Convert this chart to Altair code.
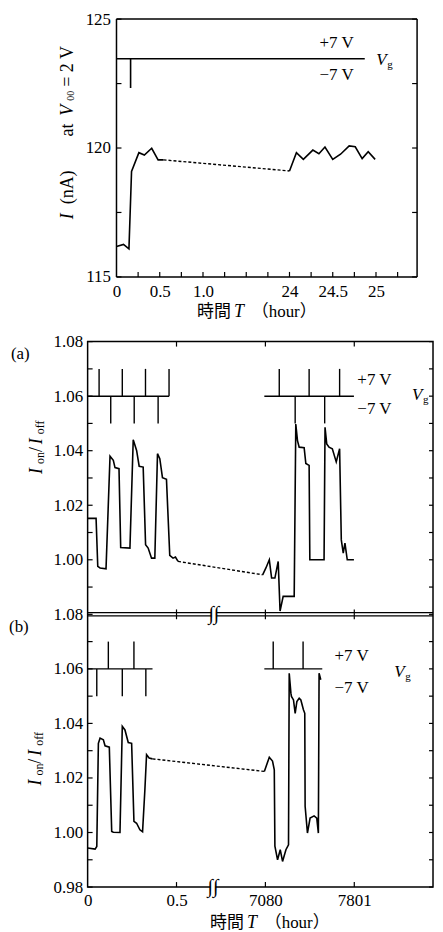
import altair as alt
import pandas as pd

NUM = "Liberation Serif"
MIX = "'Liberation Serif', 'Noto Sans CJK JP', serif"

# ---------------- top panel: I (nA) vs time T (hour) ----------------
top_solid1_t = [0.0, 0.081, 0.144, 0.174, 0.259, 0.322, 0.407, 0.481, 0.544]
top_solid1_I = [116.18, 116.26, 116.09, 119.09, 119.82, 119.73, 119.99, 119.54, 119.54]
top_dash_t = [0.544, 24.0]
top_dash_I = [119.54, 119.11]
top_solid2_t = [24.0, 24.08, 24.16, 24.27, 24.34, 24.41, 24.5, 24.59, 24.69, 24.76, 24.84, 24.91, 24.99]
top_solid2_I = [119.11, 119.82, 119.56, 119.92, 119.78, 120.04, 119.56, 119.76, 120.08, 120.05, 119.59, 119.86, 119.56]
top_vg_t = [0.0, 0.163, 0.163, 0.163, 24.87]
top_vg_I = [123.46, 123.46, 122.33, 123.46, 123.46]
top_tick_hours = [0, 0.5, 1.0, 24, 24.5, 25]
top_tick_labels = ["0", "0.5", "1.0", "24", "24.5", "25"]
top_y_labels = [115, 120, 125]
top_y_ticks = [115, 117.5, 120, 122.5, 125]
top_minor_pos = list(range(1, 14))

# ---------------- (a)/(b) panels: Ion/Ioff vs position on broken time axis ----------------
ab_tick_pos = [0, 1, 2, 3]
ab_tick_labels = ["0", "0.5", "7080", "7801"]

a_seg1_x = [0.0, 0.095, 0.114, 0.14, 0.207, 0.252, 0.289, 0.308, 0.353, 0.372, 0.476, 0.513, 0.551, 0.58,
            0.625, 0.652, 0.681, 0.719, 0.756, 0.786, 0.812, 0.842, 0.887, 0.924, 0.961, 0.988, 1.017]
a_seg1_y = [1.0152, 1.0152, 0.9976, 0.997, 0.9967, 1.038, 1.0365, 1.0338, 1.0334, 1.0045, 1.0043, 1.044, 1.0401,
            1.0343, 1.034, 1.0055, 1.0043, 1.0006, 1.0006, 1.0389, 1.0371, 1.0301, 1.0295, 1.0016, 1.0006, 1.001, 0.9994]
a_dash_x = [1.017, 1.969]
a_dash_y = [0.9994, 0.9945]
a_seg2_x = [1.969, 2.006, 2.044, 2.07, 2.107, 2.144, 2.165, 2.2, 2.324, 2.342, 2.361, 2.38, 2.436, 2.455, 2.492,
            2.5, 2.66, 2.671, 2.69, 2.716, 2.753, 2.797, 2.835, 2.854, 2.876, 2.895, 2.921, 2.996]
a_seg2_y = [0.9945, 0.997, 1.0, 0.9933, 0.9933, 0.9994, 0.9812, 0.9866, 0.9866, 1.0498, 1.0437, 1.0413, 1.0411,
            1.0353, 1.0346, 1.0, 1.0, 1.0486, 1.0425, 1.0413, 1.0407, 1.0359, 1.0407, 1.0073, 1.0024, 1.0061, 1.0, 1.0]

b_seg1_x = [0.0, 0.084, 0.103, 0.121, 0.14, 0.177, 0.196, 0.244, 0.271, 0.289, 0.364, 0.39, 0.42, 0.457, 0.495,
            0.521, 0.551, 0.588, 0.618, 0.644, 0.663, 0.692, 0.73]
b_seg1_y = [0.9943, 0.9939, 0.9949, 1.0327, 1.0346, 1.034, 1.0318, 1.0313, 1.0004, 1.0001, 1.0, 1.0389, 1.0376,
            1.033, 1.0327, 1.0041, 1.0034, 1.001, 1.0003, 1.0156, 1.0285, 1.0273, 1.027]
b_dash_x = [0.73, 1.988]
b_dash_y = [1.027, 1.0224]
b_seg2_x = [1.988, 2.044, 2.08, 2.1, 2.107, 2.137, 2.167, 2.193, 2.231, 2.26, 2.268, 2.287, 2.293, 2.316, 2.335,
            2.354, 2.38, 2.399, 2.428, 2.443, 2.447, 2.473, 2.503, 2.548, 2.578, 2.596, 2.604, 2.623]
b_seg2_y = [1.0224, 1.0276, 1.0262, 1.023, 0.995, 0.99, 0.9937, 0.9894, 0.9937, 0.9955, 1.0584, 1.0511, 1.0499,
            1.0486, 1.0437, 1.048, 1.0492, 1.0486, 1.045, 1.0437, 1.0096, 0.9998, 1.0053, 1.0061, 1.0053, 0.9998,
            1.0584, 1.056]

# gate voltage (Vg) switching schedule
vg_base, vg_high, vg_low = 1.06, 1.07, 1.05
a_vg_start = [0.0, 1.988]
a_vg_end = [0.916, 2.996]
a_vg_up = [0.129, 0.39, 0.651, 0.916, 2.156, 2.492, 2.835]
a_vg_down = [0.26, 0.524, 0.793, 2.335, 2.667]
b_vg_start = [0.0, 1.988]
b_vg_end = [0.73, 2.64]
b_vg_up = [0.233, 0.521, 2.088, 2.424]
b_vg_down = [0.103, 0.39, 0.655]

ab_y_minor = [round(0.98 + 0.01 * k, 2) for k in range(11)]
break_pos = [1.41, 1.42]

# ---------------- helpers ----------------
SHIFT = 29                 # top plot starts this far right of the lower plots
W1, H1 = 302, 259
W2, H2 = 347, 548


def top_pos(t):
    return 4 * t if t <= 1.0 else 8 + 4 * (t - 24)


def u_of(v, panel):
    # stack panel (b) [0.98, 1.08] below panel (a) [0.98, 1.08] on one axis
    return v - 0.98 + (0.1 if panel == "a" else 0.0)


def seg_df(xs, ys, seg):
    return pd.DataFrame({"x": list(xs), "y": list(ys), "seg": seg, "i": list(range(len(xs)))})


def label_expr(pos, labels):
    e = "''"
    for p, l in reversed(list(zip(pos, labels))):
        e = f"abs(datum.value - {p}) < 0.001 ? '{l}' : ({e})"
    return e


one = pd.DataFrame({"k": [0]})


def txt(s, x, y, size=17, style="normal", angle=0, align="left", baseline="middle", font=NUM):
    return alt.Chart(one).mark_text(
        text=s, fontSize=size, fontStyle=style, angle=angle, align=align,
        baseline=baseline, font=font, color="black"
    ).encode(x=alt.value(x), y=alt.value(y))


def xtitle(x0, y0):
    return [
        txt("時間", x0, y0, font=MIX, baseline="alphabetic"),
        txt("T", x0 + 37, y0, size=18, style="italic", baseline="alphabetic"),
        txt("（hour）", x0 + 55, y0, font=MIX, baseline="alphabetic"),
    ]


common_axis = dict(ticks=False, tickSize=0, domain=False, grid=False, labelFont=NUM, labelFontSize=17,
                   labelColor="black", labelFlush=False, labelOverlap=False)

# ---------------- top chart ----------------
X1_MAX = 13.9
xs1 = alt.Scale(domain=[0, X1_MAX], range=[SHIFT, SHIFT + W1], nice=False, zero=False)
ys1 = alt.Scale(domain=[115, 125], nice=False, zero=False)
top_pos_ticks = [top_pos(t) for t in top_tick_hours]
ax_x1 = alt.Axis(values=top_pos_ticks, labelExpr=label_expr(top_pos_ticks, top_tick_labels), labelPadding=7,
                 title=None, **common_axis)
ax_y1 = alt.Axis(values=top_y_labels, format="d", labelPadding=6, title=None, offset=-SHIFT, **common_axis)


def X1(f):
    return alt.X(f, type="quantitative", scale=xs1, axis=ax_x1)


def Y1(f):
    return alt.Y(f, type="quantitative", scale=ys1, axis=ax_y1)


top_solid = pd.concat([
    seg_df([top_pos(t) for t in top_solid1_t], top_solid1_I, "s1"),
    seg_df([top_pos(t) for t in top_solid2_t], top_solid2_I, "s2"),
    seg_df([top_pos(t) for t in top_vg_t], top_vg_I, "vg"),
])
top_dash = seg_df([top_pos(t) for t in top_dash_t], top_dash_I, "d")
top_frame = pd.DataFrame({"x": [0, X1_MAX, 0, 0], "x2": [0, X1_MAX, X1_MAX, X1_MAX],
                          "y": [115, 115, 115, 125], "y2": [125, 125, 115, 125]})

top_layers = [
    alt.Chart(top_frame).mark_rule(color="black", strokeWidth=1.5).encode(
        x=X1("x"), x2=alt.X2("x2"), y=Y1("y"), y2=alt.Y2("y2")),
    alt.Chart(top_solid).mark_line(color="black", strokeWidth=1.6).encode(
        x=X1("x"), y=Y1("y"), detail="seg:N", order="i:Q"),
    alt.Chart(top_dash).mark_line(color="black", strokeWidth=1.4, strokeDash=[3, 2]).encode(
        x=X1("x"), y=Y1("y"), order="i:Q"),
    alt.Chart(pd.DataFrame({"v": top_y_ticks})).mark_rule(color="black", strokeWidth=1.2).encode(
        x=alt.value(SHIFT), x2=alt.value(SHIFT + 5), y=Y1("v")),
    alt.Chart(pd.DataFrame({"v": top_y_ticks})).mark_rule(color="black", strokeWidth=1.2).encode(
        x=alt.value(SHIFT + W1 - 5), x2=alt.value(SHIFT + W1), y=Y1("v")),
    alt.Chart(pd.DataFrame({"v": top_minor_pos})).mark_rule(color="black", strokeWidth=1.2).encode(
        x=X1("v"), y=alt.value(H1 - 5), y2=alt.value(H1)),
    txt("+7 V", SHIFT + 204, 24.5),
    txt("−7 V", SHIFT + 204, 56.5),
    txt("V", SHIFT + 261, 41, style="italic"),
    txt("g", SHIFT + 272, 46, size=11),
    # y-axis title pieces
    txt("I", SHIFT - 44, 201, size=18, style="italic", angle=270, baseline="alphabetic"),
    txt("(nA)", SHIFT - 44, 186, size=18, angle=270, baseline="alphabetic"),
    txt("at", SHIFT - 44, 118, size=18, angle=270, baseline="alphabetic"),
    txt("V", SHIFT - 44, 97, size=18, style="italic", angle=270, baseline="alphabetic"),
    txt("00", SHIFT - 43, 82, size=10, angle=270, baseline="alphabetic"),
    txt("= 2 V", SHIFT - 44, 68, size=18, angle=270, baseline="alphabetic"),
    *xtitle(110, 299),
    # layout anchor (invisible)
    alt.Chart(one).mark_rule(strokeOpacity=0).encode(x=alt.value(SHIFT), y=alt.value(-6), y2=alt.value(309)),
]
top = alt.layer(*top_layers).properties(width=SHIFT + W1, height=H1,
                                         view=alt.ViewBackground(strokeOpacity=0))

# ---------------- (a)/(b) chart ----------------
xs2 = alt.Scale(domain=[0, W2 / 89.3], nice=False, zero=False)
ys2 = alt.Scale(domain=[0, 0.2], nice=False, zero=False)
ax_x2 = alt.Axis(values=ab_tick_pos, labelExpr=label_expr(ab_tick_pos, ab_tick_labels), labelPadding=6,
                 title=None, **common_axis)
ab_y_label_u = [round(0.02 * k, 2) for k in range(11)]
ax_y2 = alt.Axis(values=ab_y_label_u,
                 labelExpr="format(datum.value <= 0.1001 ? datum.value + 0.98 : datum.value + 0.88, '.2f')",
                 labelPadding=5, title=None, **common_axis)


def X2(f):
    return alt.X(f, type="quantitative", scale=xs2, axis=ax_x2)


def Y2(f):
    return alt.Y(f, type="quantitative", scale=ys2, axis=ax_y2)


def useg(xs, ys, panel, seg):
    return seg_df(xs, [u_of(v, panel) for v in ys], seg)


ab_solid = pd.concat([
    useg(a_seg1_x, a_seg1_y, "a", "a1"), useg(a_seg2_x, a_seg2_y, "a", "a2"),
    useg(b_seg1_x, b_seg1_y, "b", "b1"), useg(b_seg2_x, b_seg2_y, "b", "b2"),
])
ab_dash = pd.concat([useg(a_dash_x, a_dash_y, "a", "ad"), useg(b_dash_x, b_dash_y, "b", "bd")])

vg_h = pd.DataFrame({
    "x": a_vg_start + b_vg_start, "x2": a_vg_end + b_vg_end,
    "u": [u_of(vg_base, "a")] * len(a_vg_start) + [u_of(vg_base, "b")] * len(b_vg_start),
})
vg_v = pd.DataFrame({
    "x": a_vg_up + a_vg_down + b_vg_up + b_vg_down,
    "u1": [u_of(vg_base, "a")] * (len(a_vg_up) + len(a_vg_down)) + [u_of(vg_base, "b")] * (len(b_vg_up) + len(b_vg_down)),
    "u2": [u_of(vg_high, "a")] * len(a_vg_up) + [u_of(vg_low, "a")] * len(a_vg_down)
          + [u_of(vg_high, "b")] * len(b_vg_up) + [u_of(vg_low, "b")] * len(b_vg_down),
})
side_ticks = pd.DataFrame({"u": [u_of(v, "b") for v in ab_y_minor] + [u_of(v, "a") for v in ab_y_minor[1:]]})
edge_ticks = pd.DataFrame({"x": ab_tick_pos[1:]})
junction = u_of(0.98, "a")
junction_ticks = pd.DataFrame({"x": ab_tick_pos[1:], "u1": junction - 0.0018, "u2": junction + 0.0018})
junction_lines = pd.DataFrame({"u": [junction - 0.0006, junction + 0.0006]})
breaks = pd.DataFrame({"x": break_pos, "u": [0.0, junction]})
breaks["xa"] = breaks["x"] - 0.03
breaks["xb"] = breaks["x"] + 0.03

ab_layers = [
    alt.Chart(ab_solid).mark_line(color="black", strokeWidth=1.6).encode(
        x=X2("x"), y=Y2("y"), detail="seg:N", order="i:Q"),
    alt.Chart(ab_dash).mark_line(color="black", strokeWidth=1.4, strokeDash=[3, 2]).encode(
        x=X2("x"), y=Y2("y"), detail="seg:N", order="i:Q"),
    alt.Chart(vg_h).mark_rule(color="black", strokeWidth=1.5).encode(x=X2("x"), x2=alt.X2("x2"), y=Y2("u")),
    alt.Chart(vg_v).mark_rule(color="black", strokeWidth=1.4).encode(x=X2("x"), y=Y2("u1"), y2=alt.Y2("u2")),
    alt.Chart(side_ticks).mark_rule(color="black", strokeWidth=1.2).encode(
        x=alt.value(0), x2=alt.value(5), y=Y2("u")),
    alt.Chart(side_ticks).mark_rule(color="black", strokeWidth=1.2).encode(
        x=alt.value(W2 - 4), x2=alt.value(W2), y=Y2("u")),
    alt.Chart(edge_ticks).mark_rule(color="black", strokeWidth=1.2).encode(
        x=X2("x"), y=alt.value(0), y2=alt.value(5)),
    alt.Chart(edge_ticks).mark_rule(color="black", strokeWidth=1.2).encode(
        x=X2("x"), y=alt.value(H2 - 5), y2=alt.value(H2)),
    alt.Chart(junction_ticks).mark_rule(color="black", strokeWidth=1.2).encode(
        x=X2("x"), y=Y2("u1"), y2=alt.Y2("u2")),
    alt.Chart(junction_lines).mark_rule(color="black", strokeWidth=1.2).encode(
        x=alt.value(0), x2=alt.value(W2), y=Y2("u")),
    # axis-break marks: gap in the axis line plus two wavy strokes
    alt.Chart(breaks).mark_rule(color="white", strokeWidth=6).encode(x=X2("xa"), x2=alt.X2("xb"), y=Y2("u")),
    alt.Chart(breaks).mark_text(text="∫∫", fontSize=20, font=NUM, color="black", baseline="middle").encode(
        x=X2("x"), y=Y2("u")),
    txt("(a)", -77, 12),
    txt("(b)", -79, 287),
    txt("+7 V", 271, 38.5),
    txt("−7 V", 271, 68),
    txt("V", 326, 54, style="italic"),
    txt("g", 337, 59, size=11),
    txt("+7 V", 248, 316),
    txt("−7 V", 248, 348),
    txt("V", 308, 332, style="italic"),
    txt("g", 319, 337, size=11),
    # y-axis titles: I_on / I_off
    txt("I", -46, 133, size=18, style="italic", angle=270, baseline="alphabetic"),
    txt("on", -44, 123, size=12, angle=270, baseline="alphabetic"),
    txt("/", -46, 111, size=18, angle=270, baseline="alphabetic"),
    txt("I", -46, 103, size=18, style="italic", angle=270, baseline="alphabetic"),
    txt("off", -44, 93, size=12, angle=270, baseline="alphabetic"),
    txt("I", -47, 446, size=18, style="italic", angle=270, baseline="alphabetic"),
    txt("on", -45, 436, size=12, angle=270, baseline="alphabetic"),
    txt("/", -47, 424, size=18, angle=270, baseline="alphabetic"),
    txt("I", -47, 416, size=18, style="italic", angle=270, baseline="alphabetic"),
    txt("off", -45, 406, size=12, angle=270, baseline="alphabetic"),
    *xtitle(123, 589),
    # layout anchor (invisible)
    alt.Chart(one).mark_rule(strokeOpacity=0).encode(x=alt.value(-79), y=alt.value(-14), y2=alt.value(H2)),
]
ab = alt.layer(*ab_layers).properties(width=W2, height=H2)

chart = alt.vconcat(top, ab, spacing=0).properties(padding=0).configure_view(
    stroke="black", strokeWidth=1.5
)

chart.save("out.html", embed_options={"renderer": "svg", "actions": False})
